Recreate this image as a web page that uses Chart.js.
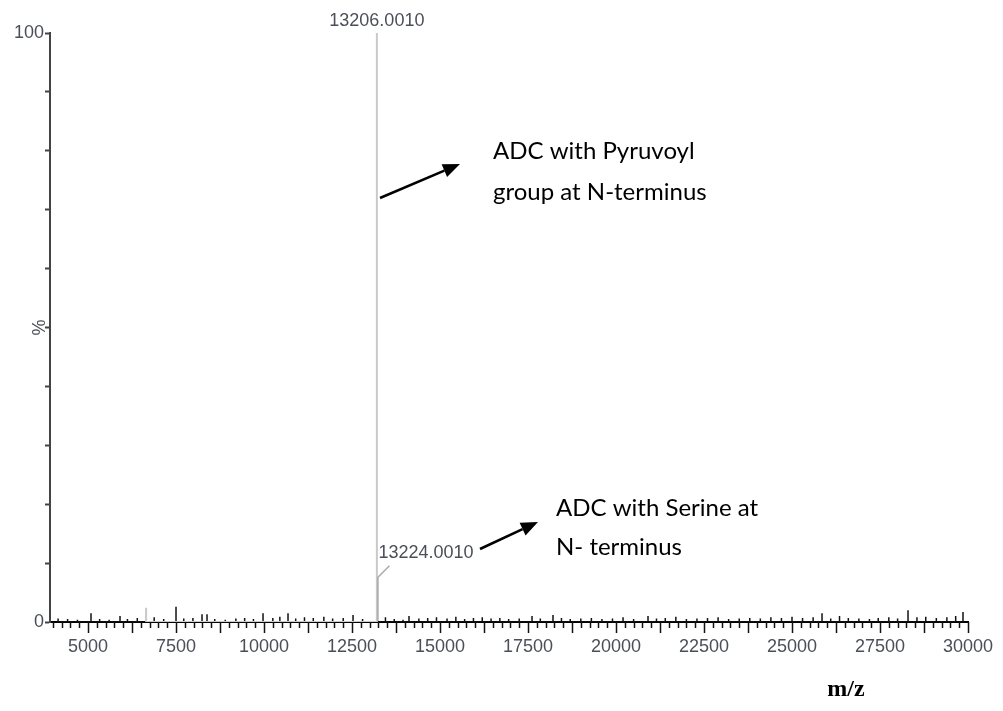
<!DOCTYPE html>
<html>
<head>
<meta charset="utf-8">
<script src="https://cdn.jsdelivr.net/npm/chart.js@4.4.1/dist/chart.umd.min.js"></script>
<style>
  html, body { margin: 0; padding: 0; background: #fff; }
  #wrap { width: 1003px; height: 711px; }
</style>
</head>
<body>
<div id="wrap"><canvas id="msChart" width="1003" height="711"></canvas></div>
<script>
// x range of the spectrum (m/z) and y (%)
const xMin = 3920;
const xMax = 30000;
const xTickValues = [5000, 7500, 10000, 12500, 15000, 17500, 20000, 22500, 25000, 27500, 30000];
const yTicks = [0, 100];

// light grey sticks (main peak + one small grey noise peak)
const greyMz = [6650, 13206];
const greyInt = [2.4, 100];

// black sticks: second peak and baseline noise
const blackMz = [4150, 4420, 4700, 5085, 5330, 5600, 5909, 6120, 6400, 6880, 7150, 7500, 7720, 7980,
    8239, 8381, 8600, 8900, 9200, 9450, 9700, 9972, 10250, 10450, 10682, 10900, 11150, 11400, 11700,
    11950, 12250, 12529, 12800, 13224, 13450, 13700, 13950, 14119, 14400, 14650, 14900, 15200, 15450,
    15700, 15950, 16200, 16450, 16700, 16950, 17250, 17614, 17850, 18210, 18450, 18700, 19000, 19300,
    19600, 19900, 20200, 20500, 20909, 21150, 21400, 21700, 22000, 22300, 22600, 22900, 23200, 23500,
    23800, 24100, 24400, 24700, 25000, 25300, 25600, 25853, 26100, 26350, 26600, 26900, 27200, 27450,
    27750, 28000, 28296, 28550, 28800, 29100, 29400, 29650, 29858];
const blackInt = [0.6, 0.5, 0.4, 1.5, 0.5, 0.4, 1.0, 0.5, 0.7, 0.8, 0.5, 2.6, 0.6, 0.7,
    1.3, 1.3, 0.5, 0.4, 0.6, 0.7, 0.5, 1.5, 0.7, 0.9, 1.5, 0.6, 0.8, 0.7, 0.9,
    0.6, 0.7, 1.2, 0.5, 7.5, 0.8, 0.5, 0.4, 1.0, 0.6, 0.7, 0.8, 0.6, 0.9,
    0.5, 0.7, 0.8, 0.6, 0.7, 0.5, 0.6, 1.0, 0.6, 1.2, 0.7, 0.5, 0.6, 0.7,
    0.5, 0.6, 0.8, 0.5, 1.0, 0.6, 0.7, 0.9, 0.5, 0.6, 0.7, 0.8, 0.5, 0.6,
    0.7, 0.6, 0.8, 0.7, 0.9, 0.7, 0.8, 1.5, 0.6, 1.0, 0.7, 0.6, 0.5, 0.7,
    0.8, 0.6, 2.0, 0.8, 0.9, 0.7, 0.8, 1.0, 1.7];

// peak labels
const peakLabels = [
    { mz: 13206, text: '13206.0010' },
    { mz: 13224, text: '13224.0010' }
];

// each stick goes 0 -> h -> 0 so the line draws a vertical bar
function toSticks(mz, ints) {
    const pts = [];
    mz.forEach((m, i) => {
        pts.push({ x: m, y: 0 }, { x: m, y: ints[i] }, { x: m, y: 0 });
    });
    return pts;
}

function arrow(ctx, x1, y1, x2, y2) {
    const ang = Math.atan2(y2 - y1, x2 - x1);
    const head = 17, half = 7;
    const bx = x2 - head * Math.cos(ang), by = y2 - head * Math.sin(ang);
    ctx.save();
    ctx.strokeStyle = '#000';
    ctx.fillStyle = '#000';
    ctx.lineWidth = 2.5;
    ctx.beginPath();
    ctx.moveTo(x1, y1);
    ctx.lineTo(bx, by);
    ctx.stroke();
    ctx.beginPath();
    ctx.moveTo(x2, y2);
    ctx.lineTo(bx + half * Math.sin(ang), by - half * Math.cos(ang));
    ctx.lineTo(bx - half * Math.sin(ang), by + half * Math.cos(ang));
    ctx.closePath();
    ctx.fill();
    ctx.restore();
}

const extras = {
    id: 'extras',
    afterDraw(chart) {
        const ctx = chart.ctx;
        const xs = chart.scales.x, ys = chart.scales.y;
        const base = ys.getPixelForValue(0);

        // x tick marks: every 250, longer every 1250
        ctx.save();
        ctx.strokeStyle = '#111';
        ctx.lineWidth = 1.5;
        for (let v = 4000; v <= xMax; v += 250) {
            const px = Math.round(xs.getPixelForValue(v)) + 0.5;
            const len = v % 1250 === 0 ? 11 : 6;
            ctx.beginPath();
            ctx.moveTo(px, base);
            ctx.lineTo(px, base + len);
            ctx.stroke();
        }
        ctx.restore();

        // peak labels
        ctx.save();
        ctx.font = '18px "Liberation Sans", Arial, sans-serif';
        ctx.fillStyle = '#4b4f58';
        ctx.textBaseline = 'middle';
        const p1 = xs.getPixelForValue(peakLabels[0].mz);
        ctx.textAlign = 'center';
        ctx.fillText(peakLabels[0].text, p1, ys.getPixelForValue(100) - 12);
        const p2 = xs.getPixelForValue(peakLabels[1].mz);
        const top2 = ys.getPixelForValue(7.5);
        ctx.strokeStyle = '#aaa';
        ctx.lineWidth = 1.5;
        ctx.beginPath();
        ctx.moveTo(p2, top2);
        ctx.lineTo(p2 + 12, top2 - 12);
        ctx.stroke();
        ctx.textAlign = 'left';
        ctx.fillText(peakLabels[1].text, p2 + 1, top2 - 25);

        // axis titles
        ctx.save();
        ctx.translate(37, ys.getPixelForValue(50));
        ctx.rotate(Math.PI / 2);
        ctx.textAlign = 'center';
        ctx.font = '18px "Liberation Sans", Arial, sans-serif';
        ctx.fillText('%', 0, 0);
        ctx.restore();

        ctx.fillStyle = '#000';
        ctx.font = 'bold 24px "Liberation Serif", "Times New Roman", serif';
        ctx.textAlign = 'center';
        ctx.fillText('m/z', 846, 690);
        ctx.restore();

        // annotations
        ctx.save();
        ctx.fillStyle = '#000';
        ctx.font = '24px Lato, "Open Sans", sans-serif';
        ctx.textBaseline = 'alphabetic';
        ctx.textAlign = 'left';
        ctx.fillText('ADC with Pyruvoyl', 493, 159);
        ctx.fillText('group at N-terminus', 493, 200);
        ctx.fillText('ADC with Serine at', 556, 516);
        ctx.fillText('N- terminus', 556, 555);
        ctx.restore();
        arrow(ctx, 380, 198, 460, 164);
        arrow(ctx, 480, 549, 538, 522);
    }
};

new Chart(document.getElementById('msChart'), {
    type: 'line',
    data: {
        datasets: [
            {
                label: 'grey',
                data: toSticks(greyMz, greyInt),
                borderColor: '#c9c9c9',
                borderWidth: 2,
                pointRadius: 0,
                tension: 0
            },
            {
                label: 'black',
                data: toSticks(blackMz, blackInt),
                borderColor: '#111',
                borderWidth: 1.5,
                pointRadius: 0,
                tension: 0
            }
        ]
    },
    plugins: [extras],
    options: {
        responsive: false,
        animation: false,
        layout: { padding: { top: 33, right: 35, left: 0, bottom: 0 } },
        plugins: {
            legend: { display: false },
            tooltip: { enabled: false }
        },
        scales: {
            x: {
                type: 'linear',
                min: xMin,
                max: xMax,
                afterFit: s => { s.height = 89; },
                afterBuildTicks: s => { s.ticks = xTickValues.map(v => ({ value: v })); },
                border: { display: true, color: '#000', width: 2 },
                grid: { display: true, drawOnChartArea: false, tickLength: 11, tickColor: 'rgba(0,0,0,0)' },
                ticks: {
                    autoSkip: false,
                    maxRotation: 0,
                    padding: 3,
                    color: '#4b4f58',
                    font: { family: '"Liberation Sans", Arial, sans-serif', size: 18 },
                    callback: v => String(v)
                }
            },
            y: {
                min: 0,
                max: 100,
                afterFit: s => { s.width = 50; },
                border: { display: true, color: '#444', width: 2 },
                grid: { display: true, drawOnChartArea: false, tickLength: 5, tickColor: '#444', tickWidth: 2 },
                ticks: {
                    stepSize: 10,
                    autoSkip: false,
                    padding: 1,
                    color: '#4b4f58',
                    font: { family: '"Liberation Sans", Arial, sans-serif', size: 18 },
                    callback: v => (yTicks.includes(v) ? String(v) : '')
                }
            }
        }
    }
});
</script>
</body>
</html>
